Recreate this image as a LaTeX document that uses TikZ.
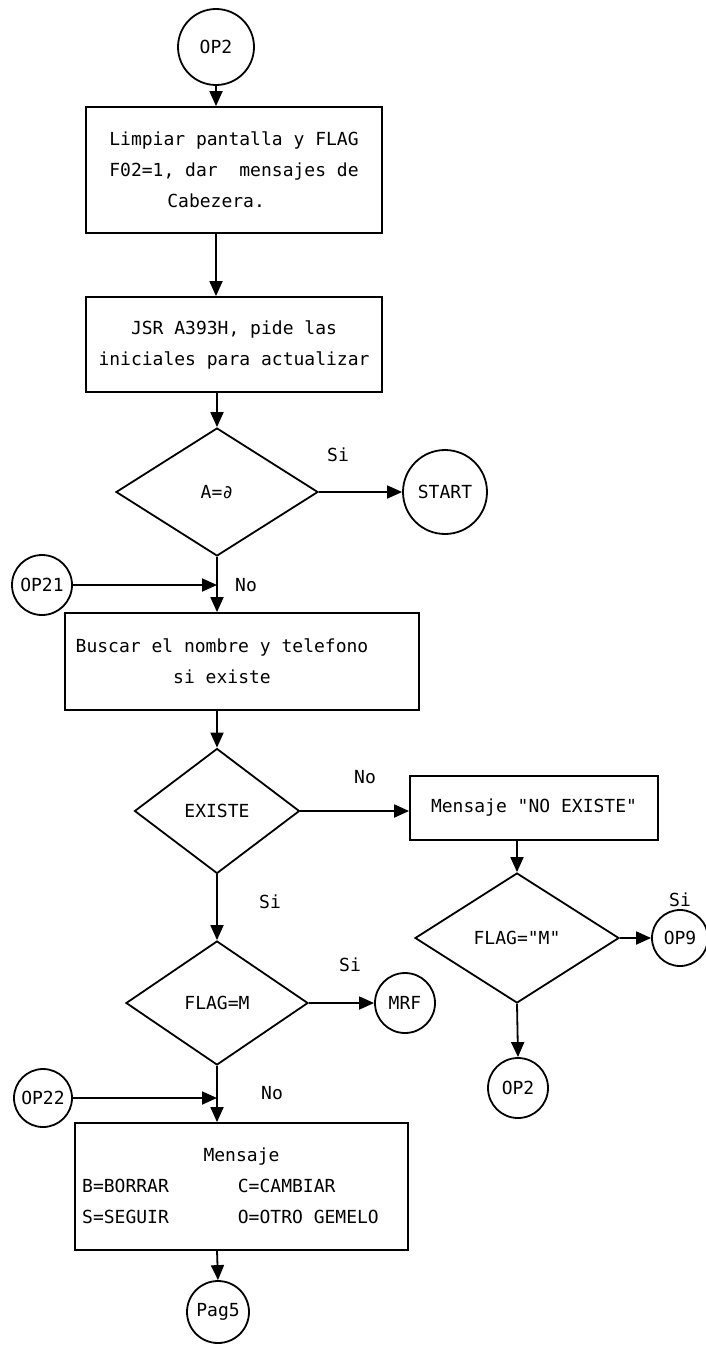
\documentclass[tikz,border=0pt]{standalone}
\usepackage{fontspec}
\setmonofont{DejaVu Sans Mono}
\usetikzlibrary{shapes.geometric,arrows.meta}

\tikzset{
	caja/.style={draw, line width=1.8pt, rectangle, inner sep=0pt, align=center},
	rombo/.style={draw, line width=1.8pt, diamond, inner sep=0pt},
	conector/.style={draw, line width=1.8pt, circle, inner sep=0pt},
	flecha/.style={line width=1.8pt, -{Triangle[length=15pt,width=13pt]}},
	rotulo/.style={inner sep=0pt}
}

\begin{document}
\begin{tikzpicture}[x=1pt, y=-1pt, every node/.style={font=\ttfamily\fontsize{18}{31}\selectfont}]
			%%%%% START %%%%%
			\useasboundingbox (0,0) rectangle (705,1354);
			
			\node[conector, minimum size=76pt] (op2) at (216,47) {OP2};
			\node[caja, align=left, minimum width=296pt, minimum height=126pt] (limpiar) at (234,170) {Limpiar pantalla y FLAG\\F02=1, dar\ \ mensajes de\\\hspace*{58pt}Cabezera.};
			\node[caja, minimum width=296pt, minimum height=95pt] (pide) at (234,344.5) {JSR A393H, pide las\\iniciales para actualizar};
			
			\node[rombo, minimum width=202pt, minimum height=128pt] (esa) at (217,492) {A=∂};
			\node[conector, minimum size=84pt] (start) at (445,492) {START};
			
			\node[conector, minimum size=60pt] (op21) at (42,585) {OP21};
			\coordinate (j1) at (217,585);
			\node[caja, minimum width=354pt, minimum height=97pt] (buscar) at (242,661.5) {\begin{tabular}{@{}c@{}}Buscar el nombre y telefono\\si existe\end{tabular}\hspace{40pt}};
			
			\node[rombo, minimum width=165pt, minimum height=125pt] (existe) at (217,811) {EXISTE};
			\node[caja, minimum width=248pt, minimum height=64pt] (noex) at (534,808) {Mensaje "NO EXISTE"};
			\node[rombo, minimum width=204pt, minimum height=130pt] (flagm2) at (517,938) {FLAG="M"};
			\node[conector, minimum size=56pt] (op9) at (680,938) {OP9};
			\node[conector, minimum size=60pt] (op2b) at (518,1088) {OP2};
			
			\node[rombo, minimum width=182pt, minimum height=124pt] (flagm) at (217,1003) {FLAG=M};
			\node[conector, minimum size=60pt] (mrf) at (405,1003) {MRF};
			
			\node[conector, minimum size=58pt] (op22) at (43,1098) {OP22};
			\coordinate (j2) at (217,1098);
			\node[caja, minimum width=333pt, minimum height=127pt] (msg) at (241.5,1186.5) {\begin{tabular}{@{}l@{\hspace{69pt}}l@{\hspace{22pt}}l@{}}\multicolumn{3}{c}{Mensaje}\\B=BORRAR & C=CAMBIAR &\\S=SEGUIR & O=OTRO GEMELO &\end{tabular}};
			\node[conector, minimum size=62pt] (pag5) at (218,1312) {Pag5};
			
			\draw[flecha] (op2.south) -- (op2.south |- limpiar.north);
			\draw[flecha] (limpiar.south -| op2) -- (pide.north -| op2);
			\draw[flecha] (pide.south -| esa) -- (esa.north);
			\draw[flecha] (esa.east) -- (start.west);
			\draw[flecha] (esa.south) -- (buscar.north -| esa);
			\draw[flecha] (op21.east) -- (j1);
			\draw[flecha] (buscar.south -| existe) -- (existe.north);
			\draw[flecha] (existe.east) -- (existe.east -| noex.west);
			\draw[flecha] (noex.south -| flagm2) -- (flagm2.north);
			\draw[flecha] (flagm2.east) -- (op9.west);
			\draw[flecha] (flagm2.south) -- (op2b.north);
			\draw[flecha] (existe.south) -- (flagm.north);
			\draw[flecha] (flagm.east) -- (mrf.west);
			\draw[flecha] (flagm.south) -- (msg.north -| flagm);
			\draw[flecha] (op22.east) -- (j2);
			\draw[flecha] (msg.south -| flagm) -- (pag5.north);
			
			\node[rotulo] (si1) at (338,455) {Si};
			\node[rotulo] (no1) at (246,585) {No};
			\node[rotulo] (no2) at (365,777) {No};
			\node[rotulo] (si2) at (270,902) {Si};
			\node[rotulo] (si3) at (680,900) {Si};
			\node[rotulo] (si4) at (350,965) {Si};
			\node[rotulo] (no3) at (272,1093) {No};
			
			%%%%% END %%%%%
\end{tikzpicture}
\end{document}
